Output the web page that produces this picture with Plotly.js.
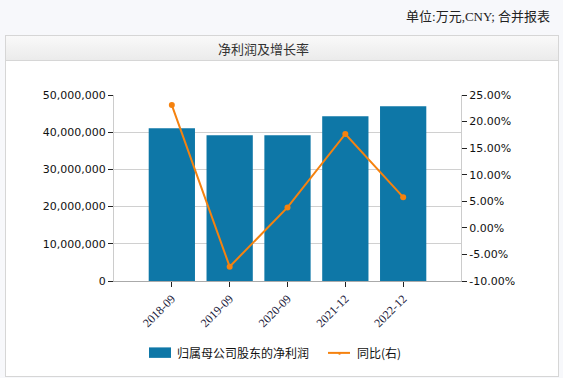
<!DOCTYPE html>
<html>
<head>
<meta charset="utf-8">
<script src="https://cdn.plot.ly/plotly-3.0.1.min.js"></script>
<style>
  html, body { margin:0; padding:0; width:563px; height:378px; overflow:hidden; background:#f7f8fb; }
  #unit { position:absolute; right:13px; top:6px; font: 13px "Liberation Serif","Noto Sans CJK SC",serif; color:#222; }
  #box { position:absolute; left:5px; top:35px; width:552px; height:340px; border:1px solid #d6d6d6; background:#fff; }
  #hdr { position:absolute; left:0; top:0; width:552px; height:24px; border-bottom:1px solid #d6d6d6;
         background:linear-gradient(#f9f9f9,#ebebeb); }
  #ttl { position:absolute; left:218px; top:39px; font: 13px "Noto Sans CJK SC",sans-serif; color:#333; }
  #chart { position:absolute; left:0; top:0; width:563px; height:378px; }
</style>
</head>
<body>
<div id="unit">单位:万元,CNY; 合并报表</div>
<div id="box"><div id="hdr"></div></div>
<div id="ttl">净利润及增长率</div>
<div id="chart"></div>
<script>
const categories = ["2018-09","2019-09","2020-09","2021-12","2022-12"];
const netProfit = [41060000, 39180000, 39200000, 44280000, 46970000];
const yoyPct = [23.1, -7.3, 3.85, 17.67, 5.78];
const seriesNames = ["归属母公司股东的净利润", "同比(右)"];
const leftTicks = [0, 10000000, 20000000, 30000000, 40000000, 50000000];
const rightTicks = [-10, -5, 0, 5, 10, 15, 20, 25];
const rightTickLabels = rightTicks.map(v => v.toFixed(2) + "%");

const barColor = "#0e77a7";
const lineColor = "#f5820f";

const traces = [
  { type:"bar", x:categories, y:netProfit, name:seriesNames[0], marker:{color:barColor}, width:0.8, yaxis:"y", hoverinfo:"none" },
  { type:"scatter", mode:"lines+markers", x:categories, y:yoyPct, name:seriesNames[1], yaxis:"y2",
    line:{color:lineColor, width:2}, marker:{color:lineColor, size:6}, hoverinfo:"none" }
];

const tickFont = {family:"DejaVu Sans, Verdana, sans-serif", size:11, color:"#111"};

const layout = {
  width:563, height:378,
  margin:{l:114, r:102, t:95, b:97, pad:0},
  paper_bgcolor:"rgba(0,0,0,0)", plot_bgcolor:"rgba(0,0,0,0)",
  showlegend:false,
  xaxis:{ type:"category", range:[-1, categories.length], showgrid:false, zeroline:false,
          showline:true, linecolor:"#aaaaaa", linewidth:1,
          ticks:"outside", ticklen:5, tickcolor:"#222", tickangle:-45,
          tickfont:{family:"Liberation Serif, serif", size:12, color:"#1a1a3a"}, fixedrange:true },
  yaxis:{ range:[0, 50000000], tickmode:"array", tickvals:leftTicks, tickformat:",d", showgrid:true, gridcolor:"#d0d0d0", gridwidth:1,
          zeroline:false, showline:true, linecolor:"#cccccc", ticks:"outside", ticklen:5, tickcolor:"#222",
          tickfont:tickFont, fixedrange:true },
  yaxis2:{ range:[-10, 25], tickmode:"array", tickvals:rightTicks, ticktext:rightTickLabels, overlaying:"y", side:"right",
           showgrid:false, zeroline:false, showline:true, linecolor:"#cccccc", ticks:"outside", ticklen:5, tickcolor:"#222",
           tickfont:tickFont, fixedrange:true },
  shapes:[
    {type:"rect", xref:"paper", yref:"paper", x0:(149-114)/347, x1:(171-114)/347, y0:-(347.5-281)/186.3, y1:-(358-281)/186.3,
     fillcolor:barColor, line:{width:0}},
    {type:"line", xref:"paper", yref:"paper", x0:(328-114)/347, x1:(350-114)/347, y0:-(353-281)/186.3, y1:-(353-281)/186.3,
     line:{color:lineColor, width:2}}
  ],
  annotations:[
    {xref:"paper", yref:"paper", x:(175-114)/347, y:-(353-281)/186.3, xanchor:"left", yanchor:"middle", showarrow:false,
     text:seriesNames[0], font:{family:"Noto Sans CJK SC, sans-serif", size:12, color:"#111"}},
    {xref:"paper", yref:"paper", x:(355-114)/347, y:-(353-281)/186.3, xanchor:"left", yanchor:"middle", showarrow:false,
     text:seriesNames[1], font:{family:"Noto Sans CJK SC, sans-serif", size:12, color:"#111"}},
    {xref:"paper", yref:"paper", x:(339-114)/347, y:-(353-281)/186.3, xanchor:"center", yanchor:"middle", showarrow:false,
     text:"●", font:{size:5, color:lineColor}}
  ]
};

Plotly.newPlot("chart", traces, layout, {displayModeBar:false, staticPlot:true});
</script>
</body>
</html>
